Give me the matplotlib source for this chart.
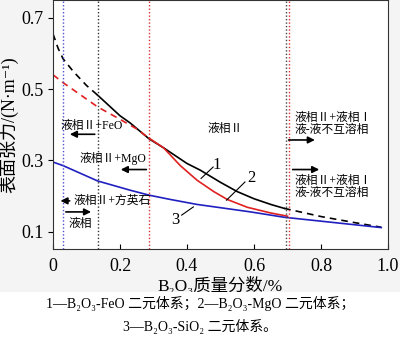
import matplotlib.pyplot as plt
from matplotlib.patches import Rectangle

plt.rcParams['font.family'] = ['Liberation Serif', 'Noto Sans CJK SC', 'DejaVu Serif']

# curve 1: B2O3-FeO
feo_x1 = [0, 0.015, 0.03, 0.06, 0.1, 0.133]
feo_y1 = [0.655, 0.615, 0.585, 0.55, 0.51, 0.483]
feo_x2 = [0.133, 0.2, 0.23, 0.287, 0.33, 0.4, 0.44, 0.5, 0.55, 0.6, 0.65, 0.69]
feo_y2 = [0.483, 0.425, 0.405, 0.36, 0.335, 0.291, 0.272, 0.238, 0.212, 0.192, 0.176, 0.165]
feo_x3 = [0.69, 0.8, 0.9, 0.98]
feo_y3 = [0.165, 0.142, 0.125, 0.112]

# curve 2: B2O3-MgO
mgo_x1 = [0, 0.03, 0.08, 0.133, 0.2, 0.25, 0.287]
mgo_y1 = [0.54, 0.518, 0.485, 0.45, 0.415, 0.388, 0.362]
mgo_x2 = [0.287, 0.33, 0.38, 0.43, 0.48, 0.52, 0.58, 0.65, 0.7]
mgo_y2 = [0.362, 0.335, 0.285, 0.244, 0.212, 0.19, 0.168, 0.152, 0.143]

# curve 3: B2O3-SiO2
sio_x = [0, 0.03, 0.133, 0.23, 0.287, 0.35, 0.43, 0.59, 0.69, 0.85, 0.98]
sio_y = [0.295, 0.285, 0.242, 0.216, 0.202, 0.19, 0.176, 0.155, 0.14, 0.124, 0.111]

# phase boundaries
vlines = [(0.03, '#5050d0'), (0.133, '#333333'), (0.287, '#e03030'),
          (0.695, '#444444'), (0.705, '#e03030')]

fig = plt.figure(figsize=(4, 3.38), dpi=100, facecolor='#f4f4f4')
fig.patches.append(Rectangle((0, 0), 1, 0.135, transform=fig.transFigure,
                             facecolor='white', edgecolor='none', zorder=0))
ax = fig.add_axes([0.1325, 0.2624, 0.8375, 0.7376])

ax.plot(feo_x1, feo_y1, color='black', ls=(0, (4, 3)), lw=1.2)
ax.plot(feo_x2, feo_y2, color='black', lw=1.2)
ax.plot(feo_x3, feo_y3, color='black', ls=(0, (4, 3)), lw=1.2)
ax.plot(mgo_x1, mgo_y1, color='#e02020', ls=(0, (4, 3)), lw=1.2)
ax.plot(mgo_x2, mgo_y2, color='#e02020', lw=1.2)
ax.plot(sio_x, sio_y, color='#2020c0', lw=1.2)

for xv, c in vlines:
    ax.axvline(xv, color=c, ls=(0, (1, 1.5)), lw=1)

fs = 8.5
arrow = dict(arrowstyle='-|>', color='black', lw=1.2)
ax.text(0.021, 0.397, '液相Ⅱ+FeO', fontsize=fs, va='center')
ax.annotate('', xy=(0.042, 0.373), xytext=(0.133, 0.373), arrowprops=arrow)
ax.text(0.08, 0.306, '液相Ⅱ+MgO', fontsize=fs, va='center')
ax.annotate('', xy=(0.194, 0.274), xytext=(0.287, 0.274), arrowprops=arrow)
ax.annotate('', xy=(0.014, 0.186), xytext=(0.058, 0.186), arrowprops=arrow)
ax.text(0.06, 0.186, '液相Ⅱ+方英石', fontsize=fs, va='center')
ax.annotate('', xy=(0.122, 0.155), xytext=(0.03, 0.155), arrowprops=arrow)
ax.text(0.045, 0.121, '液相', fontsize=fs, va='center')
ax.text(0.46, 0.389, '液相Ⅱ', fontsize=fs, va='center')
ax.text(0.72, 0.42, '液相Ⅱ+液相Ⅰ', fontsize=fs, va='center')
ax.text(0.72, 0.386, '液-液不互溶相', fontsize=fs, va='center')
ax.annotate('', xy=(0.79, 0.357), xytext=(0.695, 0.357), arrowprops=arrow)
ax.annotate('', xy=(0.803, 0.274), xytext=(0.707, 0.274), arrowprops=arrow)
ax.text(0.72, 0.242, '液相Ⅱ+液相Ⅰ', fontsize=fs, va='center')
ax.text(0.72, 0.207, '液-液不互溶相', fontsize=fs, va='center')

# curve labels with leader lines
ax.plot([0.442, 0.478], [0.249, 0.281], color='black', lw=0.8)
ax.text(0.488, 0.287, '1', fontsize=12, ha='center', va='center')
ax.plot([0.518, 0.573], [0.188, 0.239], color='black', lw=0.8)
ax.text(0.593, 0.251, '2', fontsize=12, ha='center', va='center')
ax.plot([0.384, 0.419], [0.146, 0.169], color='black', lw=0.8)
ax.text(0.366, 0.132, '3', fontsize=12, ha='center', va='center')

ax.set_xlim(0, 1.0)
ax.set_ylim(0.05, 0.75)
ax.set_xticks([0, 0.2, 0.4, 0.6, 0.8, 1.0])
ax.set_xticklabels(['0', '0.2', '0.4', '0.6', '0.8', '1.0'])
ax.set_yticks([0.1, 0.3, 0.5, 0.7])
ax.set_yticklabels(['0.1', '0.3', '0.5', '0.7'])
ax.tick_params(axis='x', direction='in', labelsize=13, pad=6)
ax.tick_params(axis='y', direction='out', labelsize=13)
for s in ax.spines.values():
    s.set_color('#333333')

ax.set_ylabel('表面张力/(N·m⁻¹)', fontsize=13, labelpad=2)
ax.set_xlabel('B₂O₃质量分数/%', fontsize=12.5, labelpad=2)

fig.text(0.5, 0.103, '1—B₂O₃-FeO 二元体系；2—B₂O₃-MgO 二元体系；', fontsize=10,
         ha='center', va='center')
fig.text(0.5, 0.033, '3—B₂O₃-SiO₂ 二元体系。', fontsize=10, ha='center', va='center')

fig.savefig('out.png', dpi=100, facecolor=fig.get_facecolor())
